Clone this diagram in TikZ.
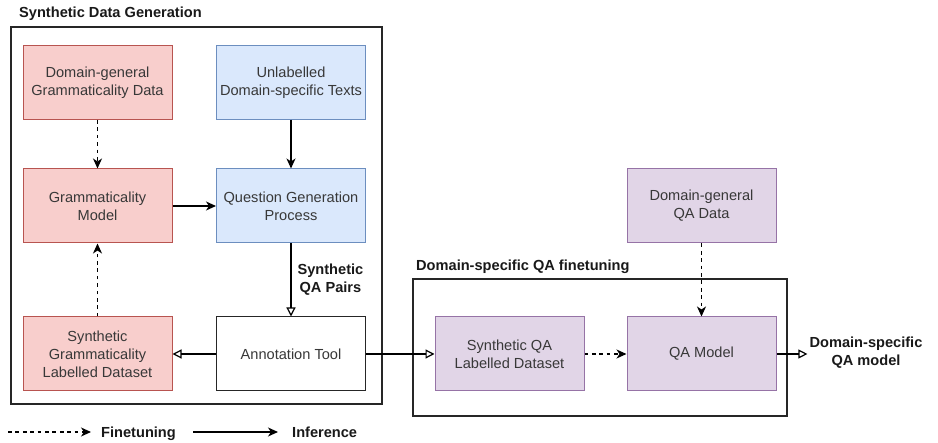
\documentclass[tikz,border=0pt]{standalone}
\usepackage{fontspec}
\setmainfont{Liberation Sans}
\usepackage{tikz}
\usetikzlibrary{arrows.meta,calc}

\definecolor{redfill}{HTML}{F8CECC}
\definecolor{redline}{HTML}{B85450}
\definecolor{bluefill}{HTML}{DAE8FC}
\definecolor{blueline}{HTML}{6C8EBF}
\definecolor{purplefill}{HTML}{E1D5E7}
\definecolor{purpleline}{HTML}{9673A6}

\begin{document}
\begin{tikzpicture}[x=1pt, y=-1pt,
    box/.style={draw, line width=1pt, minimum width=149pt, minimum height=74pt,
      inner sep=2pt, align=center, text=black!78,
      font=\fontsize{14.6}{18}\selectfont},
    redbox/.style={box, draw=redline, fill=redfill},
    bluebox/.style={box, draw=blueline, fill=bluefill},
    purplebox/.style={box, draw=purpleline, fill=purplefill},
    plainbox/.style={box, draw=black!85, fill=white},
    frame/.style={draw=black!85, line width=1.3pt},
    lbl/.style={inner sep=0pt, align=center, text=black!90,
      font=\fontsize{14.6}{18}\selectfont\bfseries},
    fine/.style={line width=1.2pt, dash pattern=on 3.7pt off 3.7pt,
      -{Stealth[length=10pt, width=9pt, inset=3pt]}},
    infer/.style={line width=1.2pt, -{Stealth[length=10pt, width=9pt, inset=3pt]}},
    gives/.style={line width=1.2pt, -{Triangle[open, length=9pt, width=9pt]}}]
  \useasboundingbox (0,0) rectangle (938,443);

  % frames and their titles
  \draw[frame] (11,27) rectangle (382,404);
  \node[lbl, anchor=base west] (sdgtitle) at (19,18) {Synthetic Data Generation};
  \draw[frame] (413,279) rectangle (787,416);
  \node[lbl, anchor=base west] (dsqtitle) at (416,271) {Domain-specific QA finetuning};

  % boxes
  \node[redbox] (dgg) at (97.5,82.5) {Domain-general\\Grammaticality Data};
  \node[bluebox] (udt) at (291,82.5) {Unlabelled\\Domain-specific Texts};
  \node[redbox] (gm) at (97.5,206) {Grammaticality\\Model};
  \node[bluebox] (qgp) at (291,206) {Question Generation\\Process};
  \node[redbox] (sgl) at (97.5,354) {Synthetic\\Grammaticality\\Labelled Dataset};
  \node[plainbox] (at) at (291,354) {Annotation Tool};
  \node[purplebox] (dgqa) at (701.5,206) {Domain-general\\QA Data};
  \node[purplebox] (sqa) at (509.5,354) {Synthetic QA\\Labelled Dataset};
  \node[purplebox] (qam) at (701.5,354) {QA Model};
  \node[lbl, inner sep=2pt] (out) at (866,353) {Domain-specific\\QA model};

  \path
    (dgg) edge[fine] (gm)
    (udt) edge[infer] (qgp)
    (gm) edge[infer] (qgp)
    (qgp) edge[gives] node[lbl, right=6pt, pos=0.5] (sqap) {Synthetic\\QA Pairs} (at)
    (at) edge[gives] (sgl)
    (sgl) edge[fine] (gm)
    (at) edge[gives] (sqa)
    (sqa) edge[fine] (qam)
    (dgqa) edge[fine] (qam)
    (qam.east) edge[gives] (qam.east -| out.west);

  % legend
  \coordinate (ftst) at (8,432);
  \coordinate (infst) at (193,432);
  \node[lbl, anchor=base west] (ftlbl) at (101,437.5) {Finetuning};
  \node[lbl, anchor=base west] (inflbl) at (292,437.5) {Inference};
  \path
    (ftst) edge[fine, shorten >=10pt] (ftst -| ftlbl.west)
    (infst) edge[infer, shorten >=14pt] (infst -| inflbl.west);
\end{tikzpicture}
\end{document}
